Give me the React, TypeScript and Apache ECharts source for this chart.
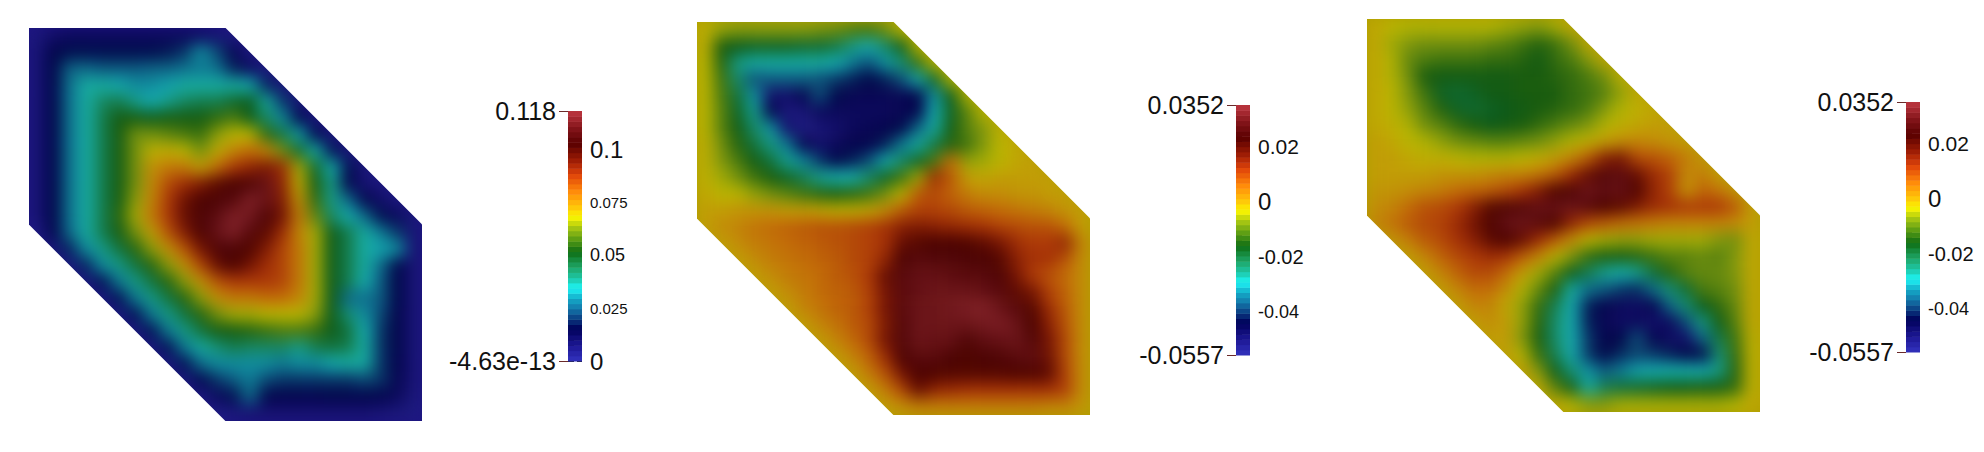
import React, { useEffect, useRef } from "react";
import * as echarts from "echarts";

const _ = null;

// Field values, in thousandths, rows top to bottom on a 24x24 raster.
const fieldA = [
  [4,8,10,10,10,10,10,10,10,10,9,6,3],
  [5,14,16,16,16,16,16,16,17,20,30,22,12,3],
  [5,15,25,26,24,24,24,25,25,27,28,27,18,10,3],
  [5,15,27,36,36,33,30,30,32,36,36,36,36,33,18,4],
  [5,15,27,36,42,44,38,33,38,42,44,44,48,50,36,20,5],
  [5,15,27,36,44,52,52,50,52,52,52,55,58,50,42,30,15,4],
  [5,15,27,36,44,52,62,62,60,58,56,64,68,68,55,45,32,15,4],
  [5,15,27,36,44,52,62,69,70,68,62,70,76,80,76,62,48,35,16,4],
  [5,15,27,36,44,52,62,74,78,78,72,80,88,92,95,90,66,48,34,16,4],
  [5,15,27,36,44,52,62,75,85,90,94,100,104,106,112,92,70,52,38,14,6,3],
  [5,15,27,36,44,52,64,76,88,97,104,106,108,116,112,94,74,55,38,26,14,8,3],
  [5,15,27,36,44,54,66,78,88,98,106,110,116,114,106,96,78,60,42,34,26,16,10,4],
  [2,14,26,36,44,52,62,72,84,94,104,112,116,108,100,90,76,66,50,44,36,28,20,5],
  [_,4,18,30,38,46,54,64,74,84,96,106,106,102,94,86,78,66,50,44,36,32,30,6],
  [_,_,3,18,30,38,46,54,64,74,86,98,104,96,90,86,78,66,50,44,36,26,15,5],
  [_,_,_,3,16,28,38,46,54,64,74,84,88,88,88,86,78,66,50,44,34,24,15,5],
  [_,_,_,_,3,16,28,38,46,54,64,74,78,78,80,80,76,66,50,26,27,24,15,5],
  [_,_,_,_,_,3,16,28,38,46,54,62,66,66,68,68,68,64,50,40,30,22,14,5],
  [_,_,_,_,_,_,3,16,28,38,46,52,52,54,56,58,58,56,50,46,34,20,14,5],
  [_,_,_,_,_,_,_,3,16,28,36,40,44,42,42,42,38,44,46,44,36,20,14,5],
  [_,_,_,_,_,_,_,_,3,16,26,30,30,30,30,28,30,30,33,36,36,20,13,5],
  [_,_,_,_,_,_,_,_,_,3,14,20,24,28,22,20,20,20,20,20,22,20,12,5],
  [_,_,_,_,_,_,_,_,_,_,3,10,16,26,14,13,13,13,14,14,14,13,10,4],
  [_,_,_,_,_,_,_,_,_,_,_,2,4,6,6,6,6,6,6,6,6,5,4,3],
];

const fieldB = [
  [-2,-6,-7,-7,-7,-7,-7,-8,-9,-11,-12,-9,-3],
  [-2,-15,-17,-18,-18,-18,-19,-19,-21,-26,-30,-24,-17,-3],
  [-3,-14,-26,-28,-28,-28,-28,-28,-30,-34,-38,-32,-25,-13,-3],
  [-3,-12,-24,-38,-37,-37,-37,-38,-40,-42,-44,-42,-38,-30,-18,-4],
  [-3,-11,-20,-32,-50,-50,-46,-38,-44,-47,-47,-47,-47,-45,-32,-17,-4],
  [-3,-10,-18,-27,-44,-53,-52,-48,-48,-48,-48,-48,-47,-45,-30,-18,-10,-3],
  [-3,-10,-16,-24,-32,-50,-54,-52,-50,-48,-47,-46,-44,-36,-28,-16,-10,-7,-2],
  [-2,-8,-14,-20,-26,-34,-46,-50,-48,-46,-46,-42,-34,-28,-21,-14,-12,-7,-3,-1],
  [-2,-7,-11,-16,-20,-27,-33,-40,-44,-42,-38,-30,-24,-18,-11,6,-6,-5,-3,-1,0],
  [-2,-5,-8,-12,-15,-18,-22,-27,-29,-29,-24,-18,-12,-5,14,8,0,-1,0,0,0,0],
  [-1,-3,-3,-6,-8,-10,-12,-14,-15,-14,-12,-8,-3,8,10,7,4,2,2,1,1,0,0],
  [0,0,1,1,1,0,0,-1,-2,-2,-1,2,8,11,11,10,8,7,6,5,4,3,1,0],
  [0,2,3,5,6,7,8,9,9,10,11,13,16,17,16,15,14,13,11,10,9,9,6,0],
  [_,0,2,4,5,6,7,8,9,10,11,13,20,22,24,24,23,21,18,14,12,12,15,3],
  [_,_,0,2,4,5,6,7,8,10,11,15,25,28,27,27,26,25,22,16,13,13,9,2],
  [_,_,_,0,2,4,5,6,8,9,12,20,28,30,30,29,28,28,26,18,12,9,6,2],
  [_,_,_,_,0,2,4,6,7,8,11,18,28,30,31,31,31,30,28,21,18,11,7,2],
  [_,_,_,_,_,0,3,5,7,8,11,18,28,31,31,32,33,34,31,28,22,14,8,2],
  [_,_,_,_,_,_,0,3,5,8,10,17,27,31,31,31,31,32,33,31,24,16,9,2],
  [_,_,_,_,_,_,_,0,3,6,10,18,27,31,30,30,26,29,30,31,27,18,10,2],
  [_,_,_,_,_,_,_,_,0,3,7,14,25,28,28,25,23,25,26,28,29,19,10,2],
  [_,_,_,_,_,_,_,_,_,0,4,9,18,24,23,22,22,22,22,23,23,21,11,2],
  [_,_,_,_,_,_,_,_,_,_,0,4,10,20,15,14,13,13,13,13,13,13,11,2],
  [_,_,_,_,_,_,_,_,_,_,_,0,2,4,4,4,4,4,4,4,4,3,3,1],
];

const fieldC = [
  [-1,-3,-4,-4,-4,-4,-4,-4,-5,-6,-7,-5,-1],
  [-1,-5,-7,-8,-8,-8,-8,-9,-10,-12,-14,-12,-8,-1],
  [-1,-4,-9,-11,-12,-12,-12,-13,-13,-14,-16,-13,-11,-7,-1],
  [-1,-4,-8,-15,-16,-16,-16,-16,-16,-15,-15,-14,-13,-11,-8,-2],
  [-1,-3,-7,-12,-18,-19,-18,-16,-16,-15,-15,-15,-13,-12,-10,-6,-1],
  [-1,-3,-6,-10,-14,-18,-19,-18,-17,-16,-15,-14,-13,-11,-7,-4,-2,-1],
  [-1,-2,-4,-8,-10,-13,-15,-17,-16,-15,-13,-11,-9,-7,-4,-2,-1,0,0],
  [0,-1,-3,-4,-6,-8,-9,-10,-10,-9,-8,-6,-4,-2,0,2,3,2,1,0],
  [0,0,-1,-2,-2,-3,-4,-4,-4,-3,-2,0,3,8,16,18,10,9,7,4,1],
  [0,0,0,0,1,1,1,2,3,3,5,8,14,20,27,29,20,14,11,2,4,0],
  [1,1,2,3,4,6,7,8,10,13,17,23,26,31,29,30,23,15,11,1,7,5,1],
  [2,3,6,9,10,12,16,22,26,27,30,30,31,28,23,21,17,14,13,12,12,12,8,0],
  [3,5,8,10,11,14,18,23,30,31,28,23,15,10,8,6,5,4,3,3,3,3,2,0],
  [_,1,4,8,10,13,16,21,24,20,14,8,2,-3,-5,-6,-6,-5,-5,-5,-5,-7,-8,-1],
  [_,_,0,3,7,10,12,14,13,8,3,-3,-7,-13,-15,-15,-14,-12,-10,-10,-9,-10,-7,-1],
  [_,_,_,0,3,7,10,10,6,0,-5,-10,-17,-22,-27,-29,-27,-20,-14,-10,-9,-9,-7,-1],
  [_,_,_,_,0,3,6,6,2,-4,-9,-15,-28,-35,-37,-40,-41,-35,-25,-19,-11,-10,-8,-1],
  [_,_,_,_,_,0,3,3,-1,-6,-13,-22,-30,-42,-46,-48,-49,-46,-36,-25,-17,-13,-9,-1],
  [_,_,_,_,_,_,0,2,0,-6,-14,-24,-30,-42,-47,-49,-48,-50,-48,-38,-26,-16,-10,-1],
  [_,_,_,_,_,_,_,0,0,-7,-15,-24,-30,-40,-46,-44,-38,-46,-49,-50,-36,-21,-12,-2],
  [_,_,_,_,_,_,_,_,0,-4,-13,-22,-30,-40,-44,-41,-39,-40,-42,-44,-44,-25,-13,-2],
  [_,_,_,_,_,_,_,_,_,0,-7,-17,-25,-32,-37,-34,-31,-30,-29,-29,-30,-26,-14,-2],
  [_,_,_,_,_,_,_,_,_,_,-1,-10,-16,-28,-22,-20,-19,-18,-17,-17,-16,-16,-13,-2],
  [_,_,_,_,_,_,_,_,_,_,_,-1,-4,-7,-7,-5,-5,-5,-5,-5,-5,-5,-4,-1],
];

// Colour scale of the legend bars: position along the bar and colour.
const rampPositions = [0,.06,.13,.17,.21,.25,.293,.33,.37,.437,.48,.53,.577,.62,.677,.744,.8,.87,.93,1];
const rampColors = [
  [50,50,190],[30,25,150],[0,0,90],[10,60,130],[20,120,170],[20,170,200],[30,245,245],[30,200,170],
  [30,170,110],[15,110,20],[80,150,20],[160,195,20],[250,245,0],[255,195,10],[255,140,10],[225,70,10],
  [160,30,5],[90,0,0],[130,20,25],[190,55,65],
];
const BAND_COUNT = 48;
const FIELD_SHADE = 0.76;

// Legend scales
const rangeA = [-4.63e-13, 0.118];
const rangeB = [-0.0557, 0.0352];
const endLabelsA = ["-4.63e-13", "0.118"];
const endLabelsB = ["-0.0557", "0.0352"];
const tickLabelValuesA = [0, 0.025, 0.05, 0.075, 0.1];
const tickLabelTextsA = ["0", "0.025", "0.05", "0.075", "0.1"];
const tickLabelSizesA = [24, 15, 18, 15, 24];
const tickLabelValuesB = [-0.04, -0.02, 0, 0.02];
const tickLabelTextsB = ["-0.04", "-0.02", "0", "0.02"];
const tickLabelSizesB = [18, 20, 24, 21];

function rampColor(t: number, shade = 1): string {
  let i = 0;
  while (i < rampPositions.length - 2 && t > rampPositions[i + 1]) i++;
  const f = (t - rampPositions[i]) / (rampPositions[i + 1] - rampPositions[i]);
  const c = rampColors[i].map((v, k) => Math.round((v + (rampColors[i + 1][k] - v) * f) * shade));
  return `rgb(${c[0]},${c[1]},${c[2]})`;
}

const bandIndexes = Array.from({ length: BAND_COUNT }, (_v, i) => i);
const fieldPalette = bandIndexes.map((i) => rampColor((i + 0.5) / BAND_COUNT, FIELD_SHADE));

const hexClip = "polygon(0 0,50% 0,100% 50%,100% 100%,50% 100%,0 50%)";

function Field({ rows, range, left, top, edge }: { rows: (number | null)[][]; range: number[]; left: number; top: number; edge: string }) {
  const ref = useRef<HTMLDivElement>(null);
  useEffect(() => {
    const chart = echarts.init(ref.current!, undefined, { renderer: "svg" });
    const data: number[][] = [];
    rows.forEach((row, r) => row.forEach((v, c) => { if (v !== null) data.push([c, r, v]); }));
    const cats = Array.from({ length: 24 }, (_v, i) => String(i));
    chart.setOption({
      animation: false,
      grid: { left: 0, right: 0, top: 0, bottom: 0 },
      xAxis: { type: "category", data: cats, show: false },
      yAxis: { type: "category", data: cats, show: false, inverse: true },
      visualMap: { show: false, min: range[0] * 1000, max: range[1] * 1000, inRange: { color: fieldPalette } },
      series: [{ type: "heatmap", data, itemStyle: { borderWidth: 0 }, silent: true }],
    });
    return () => chart.dispose();
  }, []);
  return (
    <div style={{ position: "absolute", left, top, width: 393, height: 393, clipPath: hexClip, background: edge, overflow: "hidden" }}>
      <div ref={ref} style={{ width: 393, height: 393, filter: "blur(8px)" }} />
    </div>
  );
}

function tickValues(from: number, to: number, step: number): number[] {
  const out: number[] = [];
  const n = Math.round((to - from) / step);
  for (let i = 0; i <= n; i++) out.push(Number((from + i * step).toFixed(5)));
  return out;
}

const legendBoxes = [
  { left: 568, top: 111, range: rangeA, ends: endLabelsA, vals: tickLabelValuesA, texts: tickLabelTextsA, sizes: tickLabelSizesA, minor: tickValues(0, 0.115, 0.0025) },
  { left: 1236, top: 105, range: rangeB, ends: endLabelsB, vals: tickLabelValuesB, texts: tickLabelTextsB, sizes: tickLabelSizesB, minor: tickValues(-0.054, 0.034, 0.002) },
  { left: 1906, top: 102, range: rangeB, ends: endLabelsB, vals: tickLabelValuesB, texts: tickLabelTextsB, sizes: tickLabelSizesB, minor: tickValues(-0.054, 0.034, 0.002) },
];

const FONT = "'Liberation Sans', Arial, sans-serif";
const richSizes = [15, 18, 20, 21, 24];
const rich: Record<string, object> = {};
richSizes.forEach((s) => { rich["s" + s] = { fontSize: s, fontFamily: FONT, color: "#111" }; });

function Legends() {
  const ref = useRef<HTMLDivElement>(null);
  useEffect(() => {
    const chart = echarts.init(ref.current!, undefined, { renderer: "svg" });
    const grid: object[] = [], xAxis: object[] = [], yAxis: object[] = [], series: object[] = [];
    legendBoxes.forEach((b, i) => {
      grid.push({ left: b.left, top: b.top, width: 14, height: 250 });
      xAxis.push({ gridIndex: i, type: "value", min: 0, max: 1, show: false });
      const base = { gridIndex: i, type: "value", min: b.range[0], max: b.range[1], splitLine: { show: false }, axisLine: { show: false } };
      yAxis.push({
        ...base, position: "right",
        axisTick: { show: true, length: 6, customValues: b.minor, lineStyle: { color: "#222", width: 1 } },
        axisLabel: {
          show: true, margin: 8, customValues: b.vals, rich, hideOverlap: false,
          formatter: (v: number) => {
            const k = b.vals.findIndex((x) => Math.abs(x - v) < 1e-6);
            return k < 0 ? "" : `{s${b.sizes[k]}|${b.texts[k]}}`;
          },
        },
      });
      yAxis.push({
        ...base, position: "left",
        axisTick: { show: true, length: 9, customValues: b.range, lineStyle: { color: "#6b2a2a", width: 1 } },
        axisLabel: {
          show: true, margin: 12, customValues: b.range, fontSize: 25, fontFamily: FONT, color: "#111",
          showMinLabel: true, showMaxLabel: true,
          formatter: (v: number) => (v > (b.range[0] + b.range[1]) / 2 ? b.ends[1] : b.ends[0]),
        },
      });
      yAxis.push({
        ...base, position: "right",
        axisTick: { show: true, inside: true, length: 5, customValues: b.vals, lineStyle: { color: "#222", width: 1 } },
        axisLabel: { show: false },
      });
      const span = b.range[1] - b.range[0];
      series.push({
        type: "custom", coordinateSystem: "cartesian2d", xAxisIndex: i, yAxisIndex: i * 3, silent: true, clip: false,
        encode: { y: [0, 1] },
        data: bandIndexes.map((k) => [b.range[0] + (span * k) / BAND_COUNT, b.range[0] + (span * (k + 1)) / BAND_COUNT]),
        renderItem: (params: any, api: any) => {
          const p0 = api.coord([0, api.value(0)]);
          const p1 = api.coord([1, api.value(1)]);
          return {
            type: "rect",
            shape: { x: p0[0], y: p1[1], width: p1[0] - p0[0], height: p0[1] - p1[1] + 0.5 },
            style: { fill: rampColor((params.dataIndex + 0.5) / BAND_COUNT) },
          };
        },
      });
    });
    chart.setOption({ animation: false, grid, xAxis, yAxis, series });
    return () => chart.dispose();
  }, []);
  return <div ref={ref} style={{ position: "absolute", left: 0, top: 0, width: 1984, height: 452 }} />;
}

export default function App() {
  return (
    <div style={{ position: "absolute", left: 0, top: 0, width: 1984, height: 452, background: "#fff", overflow: "hidden" }}>
      <Field rows={fieldA} range={[0, 0.118]} left={29} top={28} edge="#1e1482" />
      <Field rows={fieldB} range={rangeB} left={697} top={22} edge="#b0a000" />
      <Field rows={fieldC} range={rangeB} left={1367} top={19} edge="#b0a000" />
      <Legends />
    </div>
  );
}
